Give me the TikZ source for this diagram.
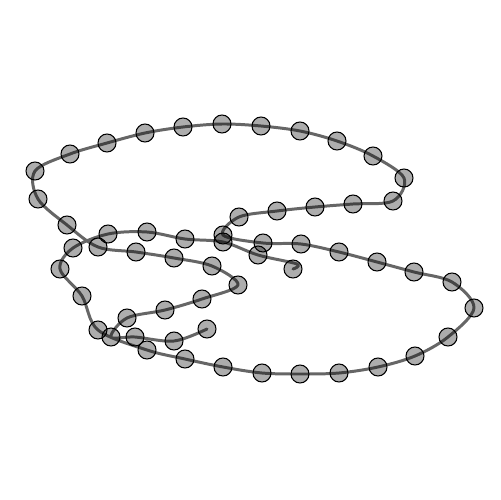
\documentclass[tikz,border=0pt]{standalone}
\begin{document}
\begin{tikzpicture}[x=0.02cm,y=-0.02cm,
  bead/.style={circle, draw=black, fill=black, fill opacity=0.32, draw opacity=1, minimum size=0.36cm, inner sep=0pt, line width=0.6pt},
  wire/.style={draw=black, draw opacity=0.6, line width=1.7pt, line cap=round, line join=round}]
\useasboundingbox (0,0) rectangle (500,500);
\foreach \n/\x/\y in {1/207/329,2/174/341,3/135/337,4/111/337,5/127/318,6/165/310,7/202/299,8/238/285,9/212/266,10/174/258,
  11/136/252,12/98/247,13/67/225,14/38/199,15/35/171,16/70/154,17/107/143,18/145/133,19/183/127,20/222/124,
  21/261/126,22/300/131,23/337/141,24/373/156,25/404/178,26/393/201,27/353/204,28/315/207,29/277/211,30/239/217,
  31/223/235,32/263/243,33/301/244,34/339/252,35/377/262,36/414/272,37/452/282,38/474/308,39/448/337,40/415/356,
  41/378/367,42/339/373,43/300/374,44/262/373,45/223/367,46/185/359,47/147/350,48/98/330,49/82/296,50/60/269,
  51/73/248,52/108/234,53/147/232,54/185/239,55/223/242,56/258/255,57/293/269}
  {\node[bead] (p\n) at (\x,\y) {};}
\coordinate (h1) at (297,264);
\draw[wire] plot[smooth, tension=0.55] coordinates {(p1.center) (p2.center) (p3.center) (p4.center) (p5.center) (p6.center) (p7.center) (p8.center) (p9.center) (p10.center)
  (p11.center) (p12.center) (p13.center) (p14.center) (p15.center) (p16.center) (p17.center) (p18.center) (p19.center) (p20.center)
  (p21.center) (p22.center) (p23.center) (p24.center) (p25.center) (p26.center) (p27.center) (p28.center) (p29.center) (p30.center)
  (p31.center) (p32.center) (p33.center) (p34.center) (p35.center) (p36.center) (p37.center) (p38.center) (p39.center) (p40.center)
  (p41.center) (p42.center) (p43.center) (p44.center) (p45.center) (p46.center) (p47.center) (p48.center) (p49.center) (p50.center)
  (p51.center) (p52.center) (p53.center) (p54.center) (p55.center) (p56.center) (h1) (p57.center)};
\end{tikzpicture}
\end{document}
